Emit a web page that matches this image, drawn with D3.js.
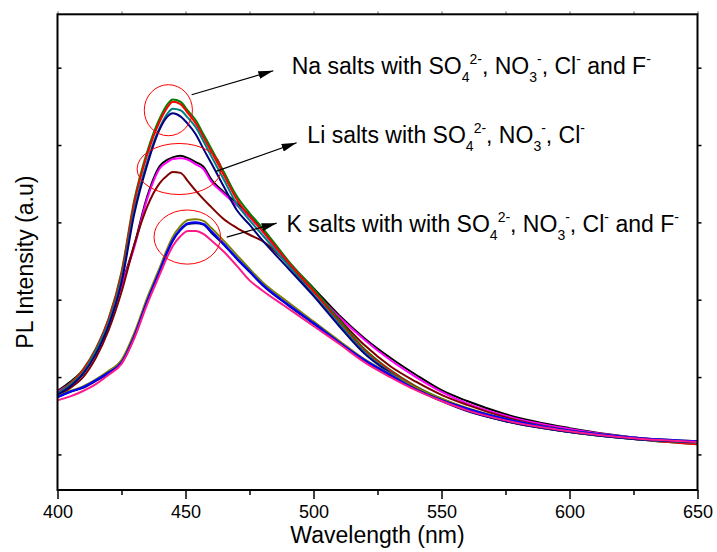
<!DOCTYPE html>
<html><head><meta charset="utf-8">
<script src="https://cdn.jsdelivr.net/npm/d3@7"></script>
<style>body{margin:0;background:#fff}svg{display:block}</style>
</head><body><svg id="c" width="717" height="552"></svg>
<script>
// ---- data (wavelength in nm, PL intensity in a.u.) ----
const wavelengths = [400,405,410,415,420,425,430,435,440,443,445,448,451,454,457,460,465,470,475,480,490,500,510,520,530,540,550,560,575,600,625,650];

// Na salts
const naGreen = [1.79,1.92,2.10,2.37,2.76,3.36,4.29,4.91,5.35,5.53,5.59,5.56,5.44,5.32,5.14,4.96,4.65,4.34,4.12,3.93,3.51,3.14,2.74,2.36,2.09,1.88,1.72,1.59,1.44,1.29,1.20,1.13];
const naRed   = [1.78,1.91,2.09,2.36,2.75,3.33,4.25,4.87,5.31,5.49,5.56,5.53,5.41,5.28,5.10,4.92,4.61,4.30,4.08,3.89,3.49,3.11,2.71,2.34,2.08,1.87,1.70,1.57,1.43,1.29,1.20,1.13];
const naTeal  = [1.78,1.90,2.06,2.34,2.71,3.27,4.16,4.78,5.23,5.41,5.47,5.45,5.35,5.23,5.05,4.86,4.55,4.24,4.03,3.84,3.45,3.07,2.69,2.32,2.06,1.86,1.70,1.57,1.43,1.29,1.20,1.15];
const naNavy  = [1.77,1.88,2.04,2.30,2.67,3.22,4.11,4.74,5.21,5.37,5.41,5.37,5.27,5.14,4.95,4.77,4.46,4.16,3.97,3.77,3.41,3.05,2.66,2.30,2.05,1.84,1.69,1.56,1.43,1.29,1.20,1.16];
// Li salts
const liBlack   = [1.82,1.94,2.09,2.34,2.70,3.19,3.71,4.33,4.73,4.81,4.84,4.86,4.83,4.78,4.72,4.56,4.39,4.25,4.09,3.91,3.49,3.15,2.80,2.50,2.25,2.03,1.83,1.69,1.52,1.34,1.22,1.16];
const liMagenta = [1.81,1.92,2.08,2.32,2.69,3.18,3.68,4.30,4.70,4.78,4.82,4.83,4.81,4.75,4.69,4.53,4.37,4.22,4.07,3.89,3.46,3.12,2.78,2.48,2.22,2.00,1.81,1.66,1.50,1.33,1.22,1.16];
const liWine    = [1.75,1.86,2.00,2.25,2.61,3.10,3.71,4.20,4.51,4.61,4.65,4.64,4.53,4.41,4.30,4.20,4.04,3.93,3.84,3.76,3.46,3.11,2.75,2.41,2.14,1.94,1.77,1.64,1.48,1.31,1.21,1.15];
// K salts
const kOlive = [1.75,1.82,1.88,1.97,2.08,2.22,2.57,3.02,3.42,3.67,3.81,3.95,4.03,4.04,4.02,3.93,3.76,3.58,3.40,3.23,2.97,2.72,2.47,2.23,2.04,1.86,1.72,1.60,1.46,1.31,1.22,1.17];
const kNavy  = [1.74,1.81,1.86,1.95,2.05,2.18,2.52,2.97,3.37,3.62,3.76,3.90,3.98,3.99,3.97,3.87,3.71,3.53,3.36,3.19,2.93,2.69,2.44,2.21,2.01,1.84,1.70,1.59,1.44,1.30,1.21,1.16];
const kBlue  = [1.74,1.81,1.87,1.96,2.06,2.19,2.53,2.98,3.38,3.63,3.77,3.91,3.99,4.00,3.98,3.89,3.72,3.54,3.37,3.20,2.94,2.70,2.45,2.22,2.03,1.84,1.70,1.59,1.46,1.31,1.22,1.17];
const kPink  = [1.70,1.75,1.82,1.91,2.03,2.17,2.50,2.94,3.33,3.56,3.69,3.82,3.89,3.89,3.85,3.77,3.62,3.44,3.25,3.12,2.89,2.66,2.43,2.19,2.00,1.83,1.69,1.57,1.44,1.30,1.21,1.16];

const xTicksMajor = [400,450,500,550,600,650];
const xTicksMinor = [425,475,525,575,625];
const yTicks = [1,2,3,4,5,6];
const xDomain = [400,650];
const yDomain = [0.54,6.69];

// annotations (data units)
const ellipseCenters = [[443.3,5.45],[447.5,4.69],[450.7,3.81]];
const ellipseRadii   = [[9.4,0.33],[16.4,0.33],[13.0,0.35]];
const arrowFrom = [[452.4,5.65],[461.9,4.66],[466.1,3.81]];
const arrowTo   = [[484.3,5.96],[493.4,5.03],[485.6,3.99]];
const labelAt   = [[491.5,5.92],[497.6,5.03],[489.5,3.88]];
const labelParts = [
  [["Na salts with SO",0],["4",1],["2-",2],[", NO",0],["3",1],["-",2],[", Cl",0],["-",2],[" and F",0],["-",2]],
  [["Li salts with SO",0],["4",1],["2-",2],[", NO",0],["3",1],["-",2],[", Cl",0],["-",2]],
  [["K salts with with SO",0],["4",1],["2-",2],[", NO",0],["3",1],["-",2],[", Cl",0],["-",2],[" and F",0],["-",2]]
];

const series = [
  {v: liBlack, c: "#000000"},
  {v: liMagenta, c: "#ff00ff"},
  {v: liWine, c: "#800000"},
  {v: naGreen, c: "#008000"},
  {v: naRed, c: "#ff0000"},
  {v: naTeal, c: "#008080"},
  {v: naNavy, c: "#000080"},
  {v: kOlive, c: "#808000"},
  {v: kNavy, c: "#000080"},
  {v: kBlue, c: "#0000ff"},
  {v: kPink, c: "#ff1a8c"}
];

// ---- layout ----
const W = 717, H = 552;
const m = {l: 57.5, r: 19.5, t: 14.3, b: 62};
const svg = d3.select("#c");
const x = d3.scaleLinear(xDomain, [m.l, W - m.r]);
const y = d3.scaleLinear(yDomain, [H - m.b, m.t]);
const FONT = "Arial, 'Liberation Sans', sans-serif";

// curves
const line = d3.line().x((d,i)=>x(wavelengths[i])).y(d=>y(d)).curve(d3.curveMonotoneX);
svg.append("clipPath").attr("id","pc").append("rect")
  .attr("x", m.l).attr("y", m.t).attr("width", W-m.l-m.r).attr("height", H-m.t-m.b);
const g = svg.append("g").attr("clip-path","url(#pc)");
series.forEach(s => {
  g.append("path").attr("d", line(s.v)).attr("fill","none")
   .attr("stroke", s.c).attr("stroke-width", 2).attr("stroke-linejoin","round");
});

// axes
const axStyle = sel => { sel.select(".domain").remove(); sel.selectAll("line").attr("stroke","#000").attr("stroke-width",1.5); };
svg.append("g").attr("transform",`translate(0,${H-m.b})`)
  .call(d3.axisBottom(x).tickValues(xTicksMajor).tickSize(9).tickPadding(6).tickFormat(d3.format("d")))
  .call(axStyle)
  .call(s=>s.selectAll("text").attr("font-family",FONT).attr("font-size",18).attr("fill","#000"));
svg.append("g").attr("transform",`translate(0,${H-m.b})`)
  .call(d3.axisBottom(x).tickValues(xTicksMinor).tickSize(5).tickFormat(""))
  .call(axStyle);
svg.append("g").attr("transform",`translate(0,${m.t})`)
  .call(d3.axisTop(x).tickValues(xTicksMajor.concat(xTicksMinor)).tickSize(3).tickFormat(""))
  .call(axStyle).call(s=>s.selectAll("line").attr("stroke","#666").attr("stroke-width",1));
svg.append("g").attr("transform",`translate(${m.l},0)`)
  .call(d3.axisLeft(y).tickValues(yTicks).tickSize(-4).tickFormat(""))
  .call(axStyle);
svg.append("g").attr("transform",`translate(${W-m.r},0)`)
  .call(d3.axisRight(y).tickValues(yTicks).tickSize(4).tickFormat(""))
  .call(axStyle);

// frame
svg.append("rect").attr("x",m.l).attr("y",m.t).attr("width",W-m.l-m.r).attr("height",H-m.t-m.b)
  .attr("fill","none").attr("stroke","#000").attr("stroke-width",2);

// axis titles
svg.append("text").attr("x",(m.l+W-m.r)/2).attr("y",543).attr("text-anchor","middle")
  .attr("font-family",FONT).attr("font-size",23).text("Wavelength (nm)");
svg.append("text").attr("transform",`translate(33,${(m.t+H-m.b)/2+10}) rotate(-90)`).attr("text-anchor","middle")
  .attr("font-family",FONT).attr("font-size",23).text("PL Intensity (a.u)");

// annotations
ellipseCenters.forEach((c,i)=>{
  svg.append("ellipse").attr("cx",x(c[0])).attr("cy",y(c[1]))
    .attr("rx", x(c[0]+ellipseRadii[i][0]) - x(c[0]))
    .attr("ry", y(c[1]) - y(c[1]+ellipseRadii[i][1]))
    .attr("fill","none").attr("stroke","#ff0000").attr("stroke-width",1);
});
svg.append("defs").append("marker").attr("id","ah").attr("markerUnits","userSpaceOnUse")
  .attr("markerWidth",15).attr("markerHeight",8).attr("refX",15).attr("refY",4).attr("orient","auto")
  .append("path").attr("d","M0,0 L15,4 L0,8 Z").attr("fill","#000");
arrowFrom.forEach((a,i)=>{
  svg.append("line").attr("x1",x(a[0])).attr("y1",y(a[1]))
    .attr("x2",x(arrowTo[i][0])).attr("y2",y(arrowTo[i][1]))
    .attr("stroke","#000").attr("stroke-width",1.2).attr("marker-end","url(#ah)");
});
labelParts.forEach((parts,i)=>{
  const t = svg.append("text").attr("x",x(labelAt[i][0])).attr("y",y(labelAt[i][1]))
    .attr("font-family",FONT).attr("font-size",23).attr("fill","#000");
  let cur = 0;
  parts.forEach(([s,k])=>{
    const target = k===1 ? 8 : (k===2 ? -10 : 0);
    t.append("tspan").attr("dy", target-cur).attr("font-size", k ? 14 : 23).text(s);
    cur = target;
  });
});
</script></body></html>
